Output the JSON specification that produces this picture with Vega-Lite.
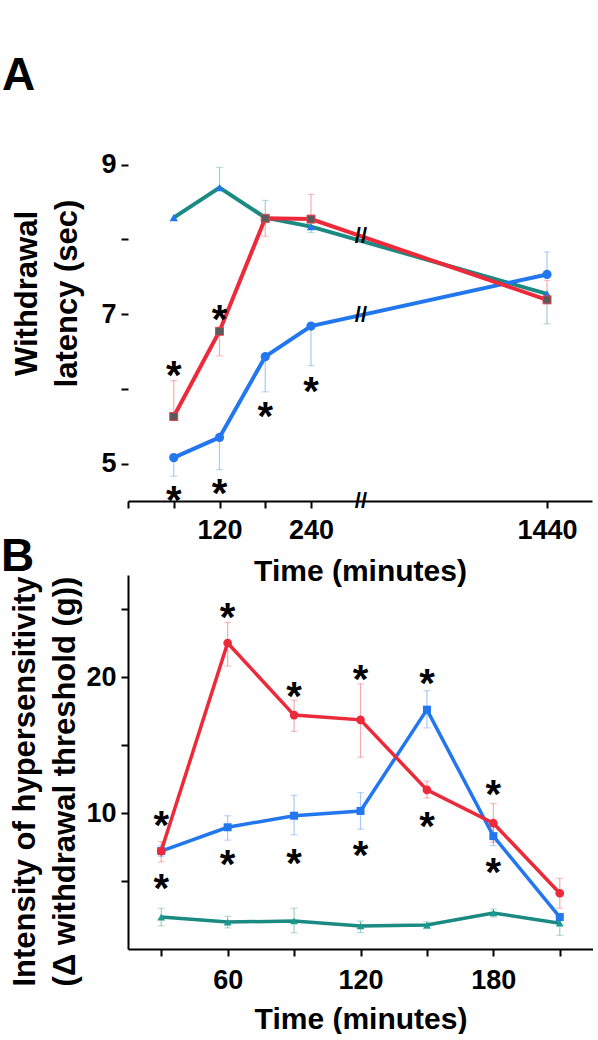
{
  "$schema": "https://vega.github.io/schema/vega-lite/v6.json",
  "background": "white",
  "padding": {"left": 1, "top": 0, "right": 0, "bottom": 0},
  "bounds": "flush",
  "spacing": 74,
  "resolve": {
    "scale": {"stroke": "independent"},
    "legend": {"stroke": "independent"}
  },
  "config": {
    "view": {"stroke": null},
    "font": "Liberation Sans",
    "axis": {
      "grid": false,
      "domainColor": "black",
      "domainWidth": 2,
      "tickColor": "black",
      "tickWidth": 2,
      "tickSize": 7,
      "labelFont": "Liberation Sans",
      "labelFontSize": 27,
      "labelFontWeight": "bold",
      "labelColor": "black",
      "labelOverlap": false,
      "labelFlush": false,
      "titleFont": "Liberation Sans",
      "titleFontWeight": "bold",
      "titleColor": "black"
    },
    "title": {"color": "black", "font": "Liberation Sans", "fontWeight": "bold"}
  },
  "datasets": {
    "A": [
      {"series": "SALINE", "t": 60, "mean": 8.29, "lo": 8.29, "hi": 8.29},
      {"series": "SALINE", "t": 120, "mean": 8.69, "lo": 8.69, "hi": 8.96},
      {"series": "SALINE", "t": 180, "mean": 8.29, "lo": 8.29, "hi": 8.52},
      {"series": "SALINE", "t": 240, "mean": 8.17, "lo": 8.09, "hi": 8.17},
      {"series": "SALINE", "t": 1440, "mean": 7.27, "lo": 6.87, "hi": 7.27},
      {"series": "FKN", "t": 60, "mean": 5.08, "lo": 4.83, "hi": 5.08},
      {"series": "FKN", "t": 120, "mean": 5.35, "lo": 4.92, "hi": 5.35},
      {"series": "FKN", "t": 180, "mean": 6.43, "lo": 5.96, "hi": 6.43},
      {"series": "FKN", "t": 240, "mean": 6.84, "lo": 6.31, "hi": 6.84},
      {"series": "FKN", "t": 1440, "mean": 7.53, "lo": 7.53, "hi": 7.83},
      {"series": "LPT", "t": 60, "mean": 5.63, "lo": 5.63, "hi": 6.11},
      {"series": "LPT", "t": 120, "mean": 6.77, "lo": 6.44, "hi": 6.77},
      {"series": "LPT", "t": 180, "mean": 8.28, "lo": 8.04, "hi": 8.28},
      {"series": "LPT", "t": 240, "mean": 8.27, "lo": 8.27, "hi": 8.6},
      {"series": "LPT", "t": 1440, "mean": 7.19, "lo": 7.19, "hi": 7.45}
    ],
    "starsA": [
      {"t": 60, "v": 6.31}, {"t": 120, "v": 7.05},
      {"t": 60, "v": 4.64}, {"t": 120, "v": 4.73},
      {"t": 180, "v": 5.76}, {"t": 240, "v": 6.09}
    ],
    "breaksA": [
      {"t": 494, "v": 8.04}, {"t": 494, "v": 6.99}, {"t": 494, "v": 4.5}
    ],
    "B": [
      {"series": "SALINE", "t": 30, "mean": 2.35, "lo": 1.7, "hi": 3.0},
      {"series": "SALINE", "t": 60, "mean": 1.98, "lo": 1.55, "hi": 2.4},
      {"series": "SALINE", "t": 90, "mean": 2.06, "lo": 1.2, "hi": 3.0},
      {"series": "SALINE", "t": 120, "mean": 1.7, "lo": 1.2, "hi": 2.05},
      {"series": "SALINE", "t": 150, "mean": 1.76, "lo": 1.5, "hi": 2.0},
      {"series": "SALINE", "t": 180, "mean": 2.65, "lo": 2.35, "hi": 2.95},
      {"series": "SALINE", "t": 210, "mean": 1.9, "lo": 1.0, "hi": 2.4},
      {"series": "FKN", "t": 30, "mean": 7.2, "lo": 6.8, "hi": 7.6},
      {"series": "FKN", "t": 60, "mean": 8.95, "lo": 8.0, "hi": 9.8},
      {"series": "FKN", "t": 90, "mean": 9.8, "lo": 8.4, "hi": 11.3},
      {"series": "FKN", "t": 120, "mean": 10.15, "lo": 8.8, "hi": 11.5},
      {"series": "FKN", "t": 150, "mean": 17.6, "lo": 16.25, "hi": 19.0},
      {"series": "FKN", "t": 180, "mean": 8.3, "lo": 7.6, "hi": 9.0},
      {"series": "FKN", "t": 210, "mean": 2.35, "lo": 2.35, "hi": 2.35},
      {"series": "LPT", "t": 30, "mean": 7.2, "lo": 6.4, "hi": 7.9},
      {"series": "LPT", "t": 60, "mean": 22.5, "lo": 20.8, "hi": 24.0},
      {"series": "LPT", "t": 90, "mean": 17.2, "lo": 16.0, "hi": 18.3},
      {"series": "LPT", "t": 120, "mean": 16.85, "lo": 14.1, "hi": 19.5},
      {"series": "LPT", "t": 150, "mean": 11.7, "lo": 11.1, "hi": 12.35},
      {"series": "LPT", "t": 180, "mean": 9.25, "lo": 7.85, "hi": 10.7},
      {"series": "LPT", "t": 210, "mean": 4.1, "lo": 3.0, "hi": 5.2}
    ],
    "starsB": [
      {"t": 30, "v": 9.8}, {"t": 30, "v": 5.15},
      {"t": 60, "v": 25.1}, {"t": 60, "v": 6.9},
      {"t": 90, "v": 19.3}, {"t": 90, "v": 7.0},
      {"t": 120, "v": 20.5}, {"t": 120, "v": 7.6},
      {"t": 150, "v": 20.2}, {"t": 150, "v": 9.7},
      {"t": 180, "v": 12.05}, {"t": 180, "v": 6.3}
    ]
  },
  "vconcat": [
    {
      "width": 464,
      "height": 501,
      "title": {"text": "A", "anchor": "start", "frame": "group", "fontSize": 46, "baseline": "alphabetic", "offset": 0, "dx": -126, "dy": 136},
      "data": {"name": "A"},
      "encoding": {
        "x": {
          "field": "t", "type": "quantitative",
          "scale": {"domain": [0, 240, 1440, 1500], "range": [0, 183, 419, 464], "nice": false, "zero": false},
          "axis": {
            "values": [0, 60, 120, 180, 240, 1440],
            "format": "d",
            "labelExpr": "datum.value == 120 || datum.value == 240 || datum.value == 1440 ? datum.label : ''",
            "labelPadding": 9,
            "title": "Time (minutes)",
            "titleFontSize": 30,
            "titleY": 55,
            "titleBaseline": "top"
          }
        },
        "y": {
          "field": "mean", "type": "quantitative",
          "scale": {"domain": [4.5, 11.2], "nice": false, "zero": false},
          "axis": {
            "values": [5, 6, 7, 8, 9],
            "domain": false,
            "labelExpr": "datum.value == 6 || datum.value == 8 ? '' : datum.label",
            "labelPadding": 5,
            "title": ["Withdrawal", "latency (sec)"],
            "titleFontSize": 31,
            "titleLineHeight": 40,
            "titleX": -92,
            "titleY": 293,
            "titleBaseline": "alphabetic"
          }
        }
      },
      "layer": [
        {
          "data": {"values": [{"axis": "y"}]},
          "mark": {"type": "rule", "strokeWidth": 2, "color": "black"},
          "encoding": {
            "x": {"datum": 0, "type": "quantitative"},
            "y": {"datum": 4.5, "type": "quantitative"},
            "y2": {"datum": 9.5}
          }
        },
        {
          "mark": {"type": "rule", "strokeWidth": 1.2, "strokeOpacity": 0.4},
          "encoding": {
            "y": {"field": "lo", "type": "quantitative"},
            "y2": {"field": "hi"},
            "stroke": {"field": "series", "type": "nominal", "legend": null, "scale": {"domain": ["LPT", "FKN", "SALINE"], "range": ["#ec2a3a", "#2277ee", "#1a8a82"]}}
          }
        },
        {
          "transform": [{"filter": "datum.lo < datum.mean"}],
          "mark": {"type": "point", "shape": "M-1,0H1", "filled": false, "size": 49, "strokeWidth": 1.2, "strokeOpacity": 0.4},
          "encoding": {
            "y": {"field": "lo", "type": "quantitative"},
            "stroke": {"field": "series", "type": "nominal", "legend": null}
          }
        },
        {
          "transform": [{"filter": "datum.hi > datum.mean"}],
          "mark": {"type": "point", "shape": "M-1,0H1", "filled": false, "size": 49, "strokeWidth": 1.2, "strokeOpacity": 0.4},
          "encoding": {
            "y": {"field": "hi", "type": "quantitative"},
            "stroke": {"field": "series", "type": "nominal", "legend": null}
          }
        },
        {
          "mark": {"type": "line", "strokeWidth": 4},
          "encoding": {
            "stroke": {"field": "series", "type": "nominal", "legend": null}
          }
        },
        {
          "transform": [{"filter": "datum.series == 'SALINE'"}],
          "mark": {"type": "point", "shape": "triangle-up", "filled": true, "size": 70, "color": "#2277ee", "opacity": 1}
        },
        {
          "transform": [{"filter": "datum.series == 'FKN'"}],
          "mark": {"type": "point", "shape": "circle", "filled": true, "size": 85, "color": "#2277ee", "opacity": 1}
        },
        {
          "transform": [{"filter": "datum.series == 'LPT'"}],
          "mark": {"type": "point", "shape": "square", "filled": true, "size": 64, "fill": "#5a5a5a", "stroke": "#e8404f", "strokeWidth": 1, "opacity": 1}
        },
        {
          "data": {"name": "starsA"},
          "mark": {"type": "text", "text": "*", "fontSize": 40, "fontWeight": "bold", "color": "black", "baseline": "middle", "align": "center", "dy": 11},
          "encoding": {"y": {"field": "v", "type": "quantitative"}}
        },
        {
          "data": {"name": "breaksA"},
          "mark": {"type": "text", "text": "//", "fontSize": 22, "fontWeight": "bold", "color": "black", "baseline": "middle", "align": "center"},
          "encoding": {"y": {"field": "v", "type": "quantitative"}}
        },
        {
          "data": {"values": [{"series": "LPT"}]},
          "encoding": {"y": {"datum": 11.024, "type": "quantitative"}},
          "layer": [
            {"mark": {"type": "rule", "strokeWidth": 4, "color": "#ec2a3a"}, "encoding": {"x": {"datum": 865, "type": "quantitative"}, "x2": {"datum": 1099}}},
            {"mark": {"type": "point", "shape": "square", "filled": true, "size": 70, "color": "#ec2a3a", "opacity": 1}, "encoding": {"x": {"datum": 982, "type": "quantitative"}}},
            {"mark": {"type": "text", "align": "left", "baseline": "middle", "dx": 1, "dy": 2, "fontSize": 30, "fontWeight": "bold", "color": "black"}, "encoding": {"x": {"datum": 1099, "type": "quantitative"}, "text": {"field": "series", "type": "nominal"}}}
          ]
        },
        {
          "data": {"values": [{"series": "FKN"}]},
          "encoding": {"y": {"datum": 10.676, "type": "quantitative"}},
          "layer": [
            {"mark": {"type": "rule", "strokeWidth": 4, "color": "#2277ee"}, "encoding": {"x": {"datum": 865, "type": "quantitative"}, "x2": {"datum": 1099}}},
            {"mark": {"type": "point", "shape": "circle", "filled": true, "size": 75, "color": "#2277ee", "opacity": 1}, "encoding": {"x": {"datum": 982, "type": "quantitative"}}},
            {"mark": {"type": "text", "align": "left", "baseline": "middle", "dx": 1, "dy": 2, "fontSize": 30, "fontWeight": "bold", "color": "black"}, "encoding": {"x": {"datum": 1099, "type": "quantitative"}, "text": {"field": "series", "type": "nominal"}}}
          ]
        },
        {
          "data": {"values": [{"series": "SALINE"}]},
          "encoding": {"y": {"datum": 10.316, "type": "quantitative"}},
          "layer": [
            {"mark": {"type": "rule", "strokeWidth": 4, "color": "#1a8a82"}, "encoding": {"x": {"datum": 865, "type": "quantitative"}, "x2": {"datum": 1099}}},
            {"mark": {"type": "point", "shape": "triangle-up", "filled": true, "size": 30, "color": "#1a8a82", "opacity": 1}, "encoding": {"x": {"datum": 982, "type": "quantitative"}, "y": {"datum": 10.345, "type": "quantitative"}}},
            {"mark": {"type": "text", "align": "left", "baseline": "middle", "dx": 1, "dy": 2, "fontSize": 30, "fontWeight": "bold", "color": "black"}, "encoding": {"x": {"datum": 1099, "type": "quantitative"}, "text": {"field": "series", "type": "nominal"}}}
          ]
        }
      ]
    },
    {
      "width": 465,
      "height": 374,
      "title": {"text": "B", "anchor": "start", "frame": "group", "fontSize": 46, "baseline": "alphabetic", "offset": 4, "dx": -127, "dy": 46},
      "data": {"name": "B"},
      "encoding": {
        "x": {
          "field": "t", "type": "quantitative",
          "scale": {"domain": [15, 225], "nice": false, "zero": false},
          "axis": {
            "values": [30, 60, 90, 120, 150, 180, 210],
            "labelExpr": "datum.value == 60 || datum.value == 120 || datum.value == 180 ? datum.label : ''",
            "labelPadding": 11,
            "title": "Time (minutes)",
            "titleFontSize": 30,
            "titleY": 55,
            "titleBaseline": "top"
          }
        },
        "y": {
          "field": "mean", "type": "quantitative",
          "scale": {"domain": [0, 27.5], "nice": false, "zero": false},
          "axis": {
            "values": [5, 10, 15, 20, 25],
            "labelExpr": "datum.value == 10 || datum.value == 20 ? datum.label : ''",
            "labelPadding": 5,
            "title": ["Intensity of hypersensitivity", "(Δ withdrawal threshold (g))"],
            "titleFontSize": 31,
            "titleLineHeight": 40,
            "titleX": -94,
            "titleY": 206,
            "titleBaseline": "alphabetic"
          }
        }
      },
      "layer": [
        {
          "mark": {"type": "rule", "strokeWidth": 1.2, "strokeOpacity": 0.4},
          "encoding": {
            "y": {"field": "lo", "type": "quantitative"},
            "y2": {"field": "hi"},
            "stroke": {"field": "series", "type": "nominal", "legend": null, "scale": {"domain": ["LPT", "FKN", "SALINE"], "range": ["#ec2a3a", "#2277ee", "#1a8a82"]}}
          }
        },
        {
          "transform": [{"filter": "datum.lo < datum.mean"}],
          "mark": {"type": "point", "shape": "M-1,0H1", "filled": false, "size": 49, "strokeWidth": 1.2, "strokeOpacity": 0.4},
          "encoding": {
            "y": {"field": "lo", "type": "quantitative"},
            "stroke": {"field": "series", "type": "nominal", "legend": null}
          }
        },
        {
          "transform": [{"filter": "datum.hi > datum.mean"}],
          "mark": {"type": "point", "shape": "M-1,0H1", "filled": false, "size": 49, "strokeWidth": 1.2, "strokeOpacity": 0.4},
          "encoding": {
            "y": {"field": "hi", "type": "quantitative"},
            "stroke": {"field": "series", "type": "nominal", "legend": null}
          }
        },
        {
          "mark": {"type": "line", "strokeWidth": 3.5},
          "encoding": {
            "stroke": {"field": "series", "type": "nominal", "legend": null}
          }
        },
        {
          "transform": [{"filter": "datum.series == 'SALINE'"}],
          "mark": {"type": "point", "shape": "triangle-up", "filled": true, "size": 60, "color": "#1a9a90", "opacity": 1}
        },
        {
          "transform": [{"filter": "datum.series == 'FKN'"}],
          "mark": {"type": "point", "shape": "square", "filled": true, "size": 64, "color": "#2277ee", "opacity": 1}
        },
        {
          "transform": [{"filter": "datum.series == 'LPT'"}],
          "mark": {"type": "point", "shape": "circle", "filled": true, "size": 75, "color": "#ec2a3a", "opacity": 1}
        },
        {
          "data": {"name": "starsB"},
          "mark": {"type": "text", "text": "*", "fontSize": 40, "fontWeight": "bold", "color": "black", "baseline": "middle", "align": "center", "dy": 11},
          "encoding": {"y": {"field": "v", "type": "quantitative"}}
        }
      ]
    }
  ]
}
